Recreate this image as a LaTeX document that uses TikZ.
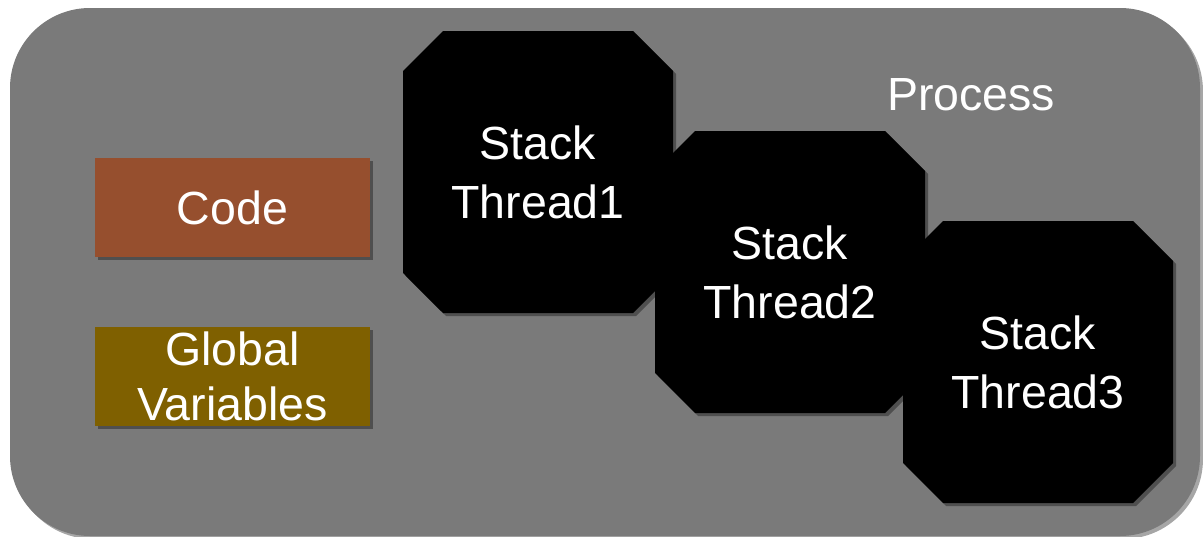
\documentclass[tikz,border=0pt]{standalone}
\usepackage{fontspec}
\setmainfont{Liberation Sans}
\usepackage{tikz}
\usetikzlibrary{shapes.misc,shadows,positioning,calc}
\usepackage{xcolor}

\definecolor{procgray}{RGB}{122,122,122}
\definecolor{coderust}{RGB}{150,79,46}
\definecolor{globalolive}{RGB}{127,96,0}

\begin{document}
\begin{tikzpicture}[
    x = 1pt, y = -1pt,
    txt/.style = {text=white, font=\fontsize{46.5}{59}\selectfont, align=center},
    shadowed/.style = {drop shadow={shadow xshift=3pt, shadow yshift=-3pt, opacity=0.35, fill=black}},
    process/.style = {rectangle, rounded corners=80pt, fill=procgray, minimum width=1190pt, minimum height=528pt, shadowed},
    segment/.style = {rectangle, minimum width=275pt, minimum height=99pt, inner sep=0pt, txt, shadowed},
    stack/.style = {chamfered rectangle, chamfered rectangle xsep=20pt, chamfered rectangle ysep=20pt, fill=black, minimum width=270pt, minimum height=282pt, inner sep=0pt, txt, shadowed}
]
    \useasboundingbox (0,0) rectangle (1203,536);

    % 1. Process container
    \node [process] (proc) at (605,272) {};
    \node [txt, anchor=base] (proclabel) at (971,110) {Process};

    % 2. Shared segments
    \node [segment, fill=coderust] (code) at (232.5,207.5) {Code};
    \node [segment, fill=globalolive, font=\fontsize{46.5}{55}\selectfont] (globals) at (232.5,376.5) {Global\\Variables};

    % 3. Per-thread stacks
    \node [stack] (t1) at (538,172) {Stack\\Thread1};
    \node [stack, anchor=north west] (t2) at ([xshift=252pt, yshift=-100pt]t1.north west) {Stack\\Thread2};
    \node [stack, anchor=north west] (t3) at ([xshift=248pt, yshift=-90pt]t2.north west) {Stack\\Thread3};
\end{tikzpicture}
\end{document}
